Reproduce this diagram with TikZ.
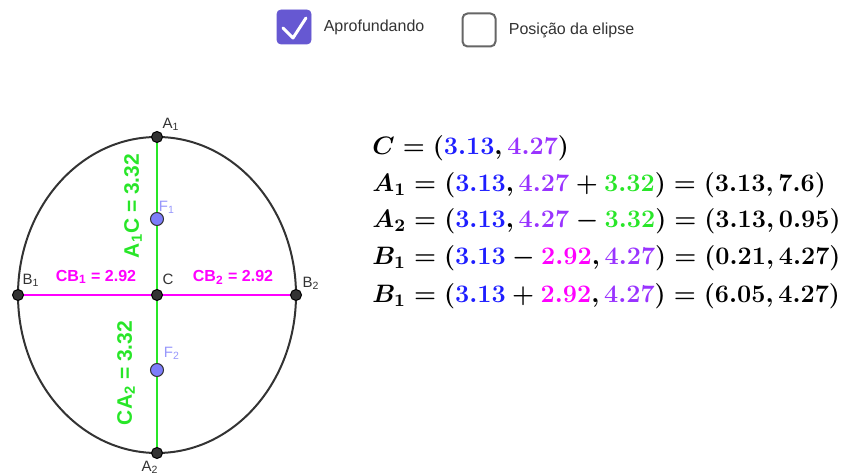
\RequirePackage{fix-cm}
\documentclass[tikz,border=0pt]{standalone}
\usepackage{fontspec}
\newfontfamily\geofont{Liberation Sans}
\usetikzlibrary{positioning, calc}
\definecolor{azul}{RGB}{30,30,255}
\definecolor{roxo}{RGB}{153,51,255}
\definecolor{verde}{RGB}{40,230,40}
\definecolor{rosa}{RGB}{255,0,255}
\definecolor{cinza}{RGB}{51,51,51}
\definecolor{foco}{RGB}{125,125,250}
\definecolor{caixa}{RGB}{102,88,210}
\tikzset{
  ponto/.style={circle, fill=cinza, draw=black, line width=0.5pt, inner sep=0pt, minimum size=5.5pt},
  pfoco/.style={circle, fill=foco, draw=cinza, line width=0.5pt, inner sep=0pt, minimum size=6.5pt},
  rotulo/.style={font=\geofont\fontsize{7.5}{9}\selectfont, text=cinza, inner sep=0pt},
  rfoco/.style={font=\geofont\fontsize{7.5}{9}\selectfont, text=foco!80, inner sep=0pt},
  elipse/.style={draw=cinza, line width=1pt},
  eixov/.style={draw=verde, line width=1pt},
  eixoh/.style={draw=rosa, line width=1pt},
  medv/.style={font=\geofont\bfseries\fontsize{10.5}{12}\selectfont, text=verde, rotate=90, inner sep=0pt},
  medh/.style={font=\geofont\bfseries\fontsize{8}{9}\selectfont, text=rosa, inner sep=0pt},
  eq/.style={anchor=base west, inner sep=0pt, font=\fontsize{12.6}{15}\selectfont\boldmath},
  opcao/.style={anchor=west, inner sep=0pt, font=\geofont\fontsize{8}{10}\selectfont, text=cinza}
}
\begin{document}
\begin{tikzpicture}[x=0.5pt, y=-0.5pt]
        \useasboundingbox (0,0) rectangle (842,475);

        % Caixas de selecao
        \node (cx1) [draw=caixa, fill=caixa, rounded corners=2pt, minimum size=17pt, inner sep=0pt] at (294,27) {};
        \draw [white, line width=1.5pt, line cap=round, line join=round] (283,28) -- (293,38) -- (306,18);
        \node (op1) [opcao, right=6pt of cx1] {Aprofundando};
        \node (cx2) [draw=black!60, line width=1pt, rounded corners=2.5pt, minimum size=16.5pt, inner sep=0pt] at (479,30) {};
        \node (op2) [opcao, right=6pt of cx2] {Posição da elipse};

        % Elipse e eixos
        \coordinate (C) at (157,295);
        \coordinate (A1) at (157,137);
        \coordinate (A2) at (157,453);
        \coordinate (B1) at (18,295);
        \coordinate (B2) at (296,295);
        \coordinate (F1) at (157,219);
        \coordinate (F2) at (157,370);
        \draw [elipse] (C) ellipse [x radius=139, y radius=158];
        \draw [eixov] (A1) -- (C);
        \draw [eixov] (C) -- (A2);
        \draw [eixoh] (B1) -- (C);
        \draw [eixoh] (C) -- (B2);

        % Pontos
        \node (pA1) [ponto] at (A1) {};
        \node (pA2) [ponto] at (A2) {};
        \node (pB1) [ponto] at (B1) {};
        \node (pB2) [ponto] at (B2) {};
        \node (pC) [ponto] at (C) {};
        \node (pF1) [pfoco] at (F1) {};
        \node (pF2) [pfoco] at (F2) {};
        \node (lA1) [rotulo] at (171,124) {A\textsubscript{1}};
        \node (lA2) [rotulo] at (150,467) {A\textsubscript{2}};
        \node (lB1) [rotulo] at (31,280) {B\textsubscript{1}};
        \node (lB2) [rotulo] at (311,283) {B\textsubscript{2}};
        \node (lC) [rotulo] at (168,279) {C};
        \node (lF1) [rfoco] at (167,207) {F\textsubscript{1}};
        \node (lF2) [rfoco] at (172,353) {F\textsubscript{2}};

        % Medidas
        \node (mA1C) [medv] at (133,206) {A\textsubscript{1}C = 3.32};
        \node (mCA2) [medv] at (126,373) {CA\textsubscript{2} = 3.32};
        \node (mCB1) [medh] at (96,277) {CB\textsubscript{1} = 2.92};
        \node (mCB2) [medh] at (233,277) {CB\textsubscript{2} = 2.92};

        % Coordenadas
        \node (eqC) [eq] at (372,155) {$C=({\color{azul}3.13},{\color{roxo}4.27})$};
        \node (eqA1) [eq] at (372,192) {$A_1=({\color{azul}3.13},{\color{roxo}4.27}+{\color{verde}3.32})=(3.13,7.6)$};
        \node (eqA2) [eq] at (372,228) {$A_2=({\color{azul}3.13},{\color{roxo}4.27}-{\color{verde}3.32})=(3.13,0.95)$};
        \node (eqB1) [eq] at (372,265) {$B_1=({\color{azul}3.13}-{\color{rosa}2.92},{\color{roxo}4.27})=(0.21,4.27)$};
        \node (eqB2) [eq] at (372,303) {$B_1=({\color{azul}3.13}+{\color{rosa}2.92},{\color{roxo}4.27})=(6.05,4.27)$};

    \end{tikzpicture}
\end{document}
